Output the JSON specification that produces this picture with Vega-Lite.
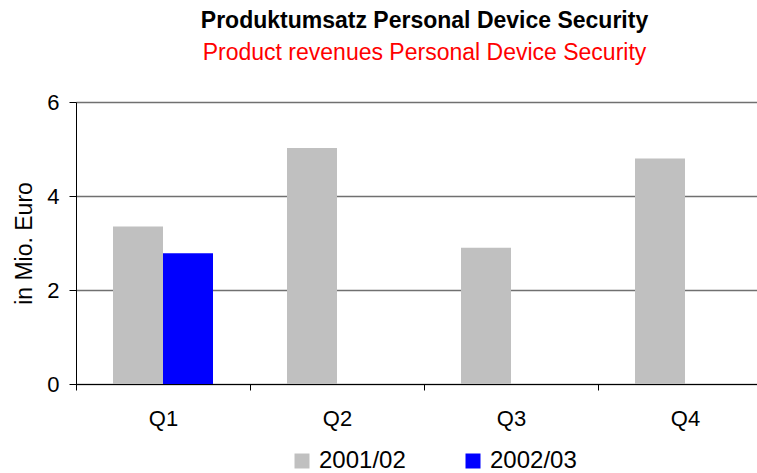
{
  "$schema": "https://vega.github.io/schema/vega-lite/v6.json",
  "width": 681,
  "height": 282,
  "autosize": {"type": "none"},
  "padding": {"left": 76, "top": 102, "right": 0, "bottom": 89},
  "background": "white",
  "title": {
    "text": "Produktumsatz Personal Device Security",
    "subtitle": "Product revenues Personal Device Security",
    "anchor": "middle",
    "dx": 8,
    "font": "Liberation Sans",
    "fontSize": 23,
    "fontWeight": "bold",
    "color": "#000000",
    "subtitleFont": "Liberation Sans",
    "subtitleFontSize": 23,
    "subtitleColor": "#FF0000",
    "subtitlePadding": 9,
    "offset": 26
  },
  "data": {
    "values": [
      {"quarter": "Q1", "year": "2001/02", "value": 3.35},
      {"quarter": "Q1", "year": "2002/03", "value": 2.78},
      {"quarter": "Q2", "year": "2001/02", "value": 5.02},
      {"quarter": "Q3", "year": "2001/02", "value": 2.9},
      {"quarter": "Q4", "year": "2001/02", "value": 4.8}
    ]
  },
  "mark": {"type": "bar"},
  "encoding": {
    "x": {
      "field": "quarter",
      "type": "nominal",
      "sort": ["Q1", "Q2", "Q3", "Q4"],
      "scale": {"range": [0, 696], "paddingInner": 0, "paddingOuter": 0},
      "axis": {
        "title": null,
        "labelAngle": 0,
        "labelFont": "Liberation Sans",
        "labelFontSize": 22,
        "labelColor": "#000000",
        "labelPadding": 18,
        "tickBand": "extent",
        "tickSize": 6,
        "tickColor": "#000000",
        "domainColor": "#000000",
        "grid": false
      }
    },
    "xOffset": {
      "field": "year",
      "type": "nominal",
      "scale": {"domain": ["2001/02", "2002/03"], "paddingInner": 0, "paddingOuter": 0.74}
    },
    "y": {
      "field": "value",
      "type": "quantitative",
      "scale": {"domain": [0, 6], "nice": false},
      "axis": {
        "title": "in Mio. Euro",
        "titleFont": "Liberation Sans",
        "titleFontSize": 23,
        "titleFontWeight": "normal",
        "titleColor": "#000000",
        "titleX": -52,
        "titleY": 141,
        "titleAngle": -90,
        "titleAlign": "center",
        "titleBaseline": "middle",
        "values": [0, 2, 4, 6],
        "labelFont": "Liberation Sans",
        "labelFontSize": 22,
        "labelColor": "#000000",
        "labelPadding": 10,
        "tickSize": 7,
        "tickColor": "#000000",
        "domainColor": "#000000",
        "grid": true,
        "gridColor": "#707070",
        "gridWidth": 1.5
      }
    },
    "color": {
      "field": "year",
      "type": "nominal",
      "scale": {"domain": ["2001/02", "2002/03"], "range": ["#C0C0C0", "#0000FF"]},
      "legend": {
        "title": null,
        "orient": "none",
        "direction": "horizontal",
        "legendX": 214,
        "legendY": 347,
        "symbolType": "square",
        "symbolSize": 225,
        "symbolStrokeWidth": 0,
        "symbolOpacity": 1,
        "labelFont": "Liberation Sans",
        "labelFontSize": 24,
        "labelColor": "#000000",
        "labelOffset": 5,
        "columnPadding": 55
      }
    }
  },
  "config": {
    "view": {"stroke": null}
  }
}
